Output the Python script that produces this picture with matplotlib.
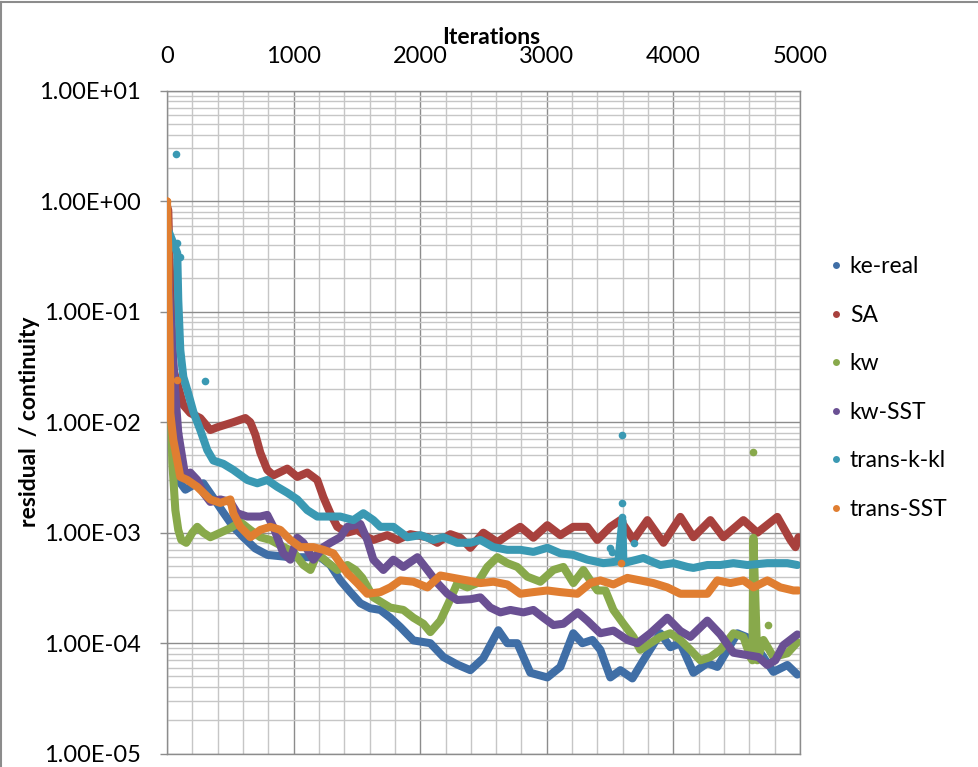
import matplotlib
matplotlib.use('Agg')
import matplotlib.pyplot as plt
from matplotlib.ticker import LogLocator, MultipleLocator, NullFormatter, FuncFormatter
from matplotlib.lines import Line2D

plt.rcParams['font.family'] = ['Lato', 'DejaVu Sans']

# residual history (iteration, continuity residual)
ke_real_x = [0, 43, 89, 145, 208, 287, 366, 445, 524, 603, 697, 792, 973, 1211, 1290, 1369, 1448, 1527,
             1606, 1685, 1764, 1843, 1946, 2080, 2183, 2293, 2396, 2498, 2617, 2688, 2767, 2870, 3004,
             3107, 3209, 3281, 3360, 3423, 3502, 3581, 3676, 3763, 3897, 3976, 4055, 4158, 4268, 4347,
             4505, 4584, 4687, 4790, 4900, 4979]
ke_real_y = [0.36, 0.0104, 3.0e-3, 2.45e-3, 2.7e-3, 2.8e-3, 2.07e-3, 1.52e-3, 1.13e-3, 9.1e-4, 7.2e-4,
             6.3e-4, 6.0e-4, 6.0e-4, 5.1e-4, 3.7e-4, 2.9e-4, 2.3e-4, 2.07e-4, 2.0e-4, 1.7e-4, 1.4e-4,
             1.06e-4, 1.0e-4, 7.5e-5, 6.4e-5, 5.7e-5, 7.3e-5, 1.31e-4, 1.0e-4, 1.0e-4, 5.4e-5, 4.9e-5,
             6.1e-5, 1.23e-4, 1.0e-4, 1.07e-4, 8.7e-5, 4.9e-5, 5.7e-5, 4.8e-5, 7.0e-5, 1.23e-4, 9.2e-5,
             1.0e-4, 5.4e-5, 6.6e-5, 6.1e-5, 1.23e-4, 1.13e-4, 8.2e-5, 5.5e-5, 6.35e-5, 5.2e-5]

sa_x = [0, 10, 18, 34, 50, 81, 129, 184, 263, 342, 398, 524, 619, 658, 698, 737, 792, 840, 950, 1029,
        1108, 1187, 1235, 1290, 1345, 1424, 1503, 1582, 1630, 1740, 1819, 1922, 2056, 2135, 2238, 2317,
        2396, 2499, 2610, 2689, 2791, 2894, 3004, 3107, 3209, 3320, 3399, 3502, 3581, 3684, 3795, 3921,
        4055, 4158, 4292, 4395, 4553, 4663, 4821, 4924, 4964, 4988]
sa_y = [0.9, 0.83, 0.36, 0.1, 0.030, 0.0226, 0.0143, 0.0121, 0.0109, 8.5e-3, 9.0e-3, 1.0e-2, 1.09e-2,
        1.0e-2, 7.7e-3, 5.3e-3, 3.7e-3, 3.3e-3, 3.8e-3, 3.2e-3, 3.5e-3, 3.0e-3, 2.1e-3, 1.5e-3,
        1.13e-3, 1.0e-3, 1.06e-3, 9.1e-4, 8.6e-4, 9.5e-4, 8.6e-4, 9.7e-4, 9.1e-4, 8.1e-4, 9.7e-4,
        9.0e-4, 7.3e-4, 1.0e-3, 8.2e-4, 9.5e-4, 1.13e-3, 9.0e-4, 1.17e-3, 9.5e-4, 1.13e-3, 1.13e-3,
        8.6e-4, 1.13e-3, 1.30e-3, 8.6e-4, 1.30e-3, 8.1e-4, 1.39e-3, 9.1e-4, 1.30e-3, 9.1e-4, 1.30e-3,
        1.0e-3, 1.39e-3, 8.6e-4, 7.4e-4, 9.1e-4]

kw_x = [0, 26, 42, 66, 89, 113, 152, 200, 239, 287, 342, 421, 500, 579, 658, 737, 816, 895, 998, 1077,
        1133, 1188, 1267, 1346, 1425, 1488, 1543, 1630, 1764, 1867, 1946, 2025, 2080, 2159, 2238, 2293,
        2372, 2451, 2530, 2609, 2688, 2767, 2846, 2949, 3052, 3131, 3210, 3289, 3344, 3400, 3463, 3526,
        3605, 3684, 3739, 3818, 3897, 3976, 4055, 4134, 4213, 4292, 4371, 4474, 4553, 4608, 4624, 4632,
        4663, 4711, 4790, 4900, 4979]
kw_y = [0.5, 0.024, 4.3e-3, 1.6e-3, 1.06e-3, 8.6e-4, 8.1e-4, 1.0e-3, 1.13e-3, 1.0e-3, 9.1e-4, 1.0e-3,
        1.1e-3, 1.25e-3, 1.06e-3, 9.1e-4, 8.6e-4, 7.7e-4, 6.7e-4, 5.1e-4, 4.6e-4, 6.5e-4, 5.4e-4,
        4.6e-4, 5.1e-4, 4.6e-4, 3.9e-4, 2.6e-4, 2.1e-4, 2.0e-4, 1.7e-4, 1.5e-4, 1.26e-4, 1.6e-4,
        2.5e-4, 3.5e-4, 3.2e-4, 3.5e-4, 4.9e-4, 6.0e-4, 5.3e-4, 4.9e-4, 4.0e-4, 3.6e-4, 4.6e-4,
        4.9e-4, 3.5e-4, 4.6e-4, 3.7e-4, 3.0e-4, 3.0e-4, 2.0e-4, 1.5e-4, 1.14e-4, 8.7e-5, 1.0e-4,
        1.14e-4, 1.23e-4, 1.07e-4, 8.7e-5, 7.0e-5, 7.5e-5, 8.7e-5, 1.23e-4, 1.14e-4, 7.5e-5, 7.0e-5,
        9.0e-4, 7.0e-5, 1.07e-4, 7.5e-5, 8.1e-5, 1.02e-4]

kw_sst_x = [0, 66, 89, 145, 184, 239, 287, 342, 421, 500, 555, 634, 737, 792, 840, 871, 919, 974, 1029,
            1077, 1156, 1235, 1290, 1369, 1424, 1527, 1582, 1630, 1709, 1788, 1867, 1978, 2057, 2136,
            2215, 2293, 2396, 2475, 2554, 2633, 2712, 2815, 2894, 2973, 3052, 3131, 3244, 3320, 3423,
            3526, 3637, 3716, 3818, 3952, 4055, 4134, 4268, 4371, 4474, 4584, 4671, 4742, 4805, 4869,
            4979]
kw_sst_y = [0.3, 0.0183, 8.0e-3, 3.2e-3, 3.5e-3, 3.0e-3, 2.3e-3, 1.9e-3, 2.0e-3, 1.9e-3, 1.5e-3,
            1.4e-3, 1.4e-3, 1.45e-3, 1.13e-3, 9.1e-4, 6.5e-4, 5.7e-4, 9.0e-4, 8.1e-4, 5.7e-4, 7.4e-4,
            8.1e-4, 9.1e-4, 1.13e-3, 1.2e-3, 8.6e-4, 5.7e-4, 4.6e-4, 5.7e-4, 4.9e-4, 6.0e-4, 4.6e-4,
            3.5e-4, 2.8e-4, 2.46e-4, 2.5e-4, 2.6e-4, 2.1e-4, 1.9e-4, 2.0e-4, 1.9e-4, 2.0e-4, 1.7e-4,
            1.46e-4, 1.5e-4, 1.9e-4, 1.6e-4, 1.23e-4, 1.3e-4, 1.07e-4, 1.0e-4, 1.23e-4, 1.7e-4, 1.29e-4,
            1.14e-4, 1.6e-4, 1.2e-4, 8.2e-5, 7.8e-5, 7.5e-5, 6.35e-5, 7.0e-5, 9.6e-5, 1.2e-4]

trans_kkl_x = [0, 81, 89, 105, 129, 160, 208, 263, 318, 366, 445, 524, 634, 713, 792, 871, 950, 1029,
               1108, 1187, 1266, 1369, 1472, 1551, 1630, 1685, 1788, 1898, 2001, 2104, 2183, 2293, 2396,
               2475, 2578, 2688, 2791, 2894, 3004, 3107, 3209, 3320, 3447, 3565, 3597, 3605, 3763, 3842,
               3897, 4000, 4111, 4158, 4268, 4371, 4474, 4584, 4742, 4900, 4979]
trans_kkl_y = [0.58, 0.34, 0.128, 0.045, 0.0257, 0.0196, 0.0124, 8.5e-3, 5.6e-3, 4.5e-3, 4.2e-3,
               3.7e-3, 3.0e-3, 2.8e-3, 3.0e-3, 2.6e-3, 2.3e-3, 2.0e-3, 1.6e-3, 1.4e-3, 1.4e-3, 1.4e-3,
               1.3e-3, 1.5e-3, 1.3e-3, 1.13e-3, 1.13e-3, 9.1e-4, 9.5e-4, 8.6e-4, 9.1e-4, 8.1e-4, 8.1e-4,
               8.6e-4, 7.4e-4, 7.0e-4, 7.0e-4, 6.7e-4, 7.3e-4, 6.5e-4, 6.3e-4, 5.7e-4, 5.3e-4, 5.5e-4,
               1.3e-3, 5.3e-4, 5.9e-4, 5.4e-4, 5.1e-4, 5.3e-4, 4.9e-4, 4.8e-4, 5.1e-4, 5.1e-4, 5.3e-4,
               5.1e-4, 5.3e-4, 5.3e-4, 5.1e-4]

trans_sst_x = [0, 10, 10, 18, 26, 26, 50, 81, 105, 160, 239, 287, 342, 421, 500, 524, 579, 658, 737, 816,
               895, 974, 1053, 1156, 1235, 1314, 1424, 1503, 1582, 1685, 1764, 1843, 1946, 2057, 2159,
               2262, 2372, 2475, 2578, 2688, 2791, 2894, 3004, 3107, 3241, 3344, 3423, 3526, 3636, 3739,
               3842, 3952, 4055, 4158, 4268, 4347, 4450, 4553, 4632, 4742, 4845, 4948, 4987]
trans_sst_y = [1.0, 0.36, 0.156, 0.068, 0.024, 0.0121, 6.9e-3, 4.5e-3, 3.2e-3, 3.0e-3, 2.6e-3, 2.3e-3,
               2.0e-3, 1.86e-3, 2.0e-3, 1.5e-3, 1.13e-3, 9.1e-4, 1.06e-3, 1.13e-3, 1.06e-3, 8.6e-4,
               7.4e-4, 7.4e-4, 7.0e-4, 6.5e-4, 4.3e-4, 3.5e-4, 2.8e-4, 2.9e-4, 3.2e-4, 3.7e-4, 3.6e-4,
               3.2e-4, 4.1e-4, 3.9e-4, 3.7e-4, 3.5e-4, 3.6e-4, 3.4e-4, 2.8e-4, 2.9e-4, 3.0e-4, 2.9e-4,
               2.8e-4, 3.5e-4, 3.7e-4, 3.4e-4, 3.9e-4, 3.7e-4, 3.5e-4, 3.2e-4, 2.8e-4, 2.8e-4, 2.8e-4,
               3.7e-4, 3.5e-4, 3.7e-4, 3.2e-4, 3.7e-4, 3.2e-4, 3.0e-4, 3.0e-4]

# isolated points that stick out of the curves
kw_dots_x = [4632, 4632, 4632, 4750]
kw_dots_y = [5.4e-3, 8.2e-4, 7.1e-4, 1.46e-4]
kkl_dots_x = [0, 0, 73, 81, 105, 303, 3597, 3597, 3597, 3592, 3502, 3518, 3692]
kkl_dots_y = [0.58, 0.45, 2.7, 0.42, 0.31, 0.0236, 7.6e-3, 1.86e-3, 1.4e-3, 1.13e-3, 7.3e-4, 6.7e-4, 8.1e-4]
sst_dots_x = [0, 81, 3590]
sst_dots_y = [1.0, 0.024, 5.3e-4]
kwsst_dots_x = [66, 89]
kwsst_dots_y = [0.0183, 8.0e-3]

names = ['ke-real', 'SA', 'kw', 'kw-SST', 'trans-k-kl', 'trans-SST']
colors = ['#3F6EA6', '#A8413D', '#88A94B', '#6A5093', '#3A99B3', '#E07E31']

fig = plt.figure(figsize=(9.79, 7.67), dpi=100)
ax = fig.add_axes([167 / 979, 1 - 753.7 / 767, 633 / 979, 663 / 767])

series = [(ke_real_x, ke_real_y), (sa_x, sa_y), (kw_x, kw_y), (kw_sst_x, kw_sst_y),
          (trans_kkl_x, trans_kkl_y), (trans_sst_x, trans_sst_y)]
dots = {2: (kw_dots_x, kw_dots_y), 3: (kwsst_dots_x, kwsst_dots_y),
        4: (kkl_dots_x, kkl_dots_y), 5: (sst_dots_x, sst_dots_y)}

for i, (xs, ys) in enumerate(series):
    ax.plot(xs, ys, '-', color=colors[i], lw=5.8, solid_capstyle='round', solid_joinstyle='round', zorder=3 + i)
    if i in dots:
        ax.plot(dots[i][0], dots[i][1], 'o', color=colors[i], ms=5.5, mec='none', zorder=3 + i)

ax.set_yscale('log')
ax.set_ylim(1e-5, 1e1)
ax.set_xlim(0, 5000)
ax.xaxis.set_major_locator(MultipleLocator(1000))
ax.xaxis.set_minor_locator(MultipleLocator(200))
ax.yaxis.set_major_locator(LogLocator(base=10))
ax.yaxis.set_minor_locator(LogLocator(base=10, subs=range(2, 10)))
ax.yaxis.set_minor_formatter(NullFormatter())
ax.yaxis.set_major_formatter(FuncFormatter(lambda v, p: f'{v:.2E}'))
ax.xaxis.tick_top()
ax.tick_params(axis='x', which='both', length=0, pad=17, labelsize=17)
ax.tick_params(axis='y', which='major', length=5, width=1, color='#8C8C8C', pad=14, labelsize=17)
ax.tick_params(axis='y', which='minor', length=0)
ax.set_axisbelow(True)
ax.grid(which='minor', color='#C6C6C6', lw=1)
ax.grid(which='major', color='#8C8C8C', lw=1)
for s in ax.spines.values():
    s.set_color('#8C8C8C')
    s.set_linewidth(1)

fig.text(491 / 979, 1 - 38 / 767, 'Iterations', ha='center', va='center', fontsize=16.5, fontweight='bold')
fig.text(30 / 979, 1 - 422 / 767, 'residual  / continuity', ha='center', va='center',
         rotation=90, fontsize=16.5, fontweight='bold')

handles = [Line2D([], [], ls='none', marker='o', ms=5, color=c, mec='none') for c in colors]
fig.legend(handles, names, loc='upper left', bbox_to_anchor=(820 / 979, 1 - 247 / 767),
           frameon=False, fontsize=16.5, handlelength=0.6, handletextpad=0.3, labelspacing=1.2,
           borderaxespad=0)

# outer chart border (only top and left fall inside the picture)
fig.add_artist(Line2D([1.5 / 979, 1.5 / 979], [0, 1 - 1.5 / 767], color='#8C8C8C', lw=1.5,
                      transform=fig.transFigure))
fig.add_artist(Line2D([1.5 / 979, 1], [1 - 1.5 / 767, 1 - 1.5 / 767], color='#8C8C8C', lw=1.5,
                      transform=fig.transFigure))

fig.savefig('out.png', dpi=100)
